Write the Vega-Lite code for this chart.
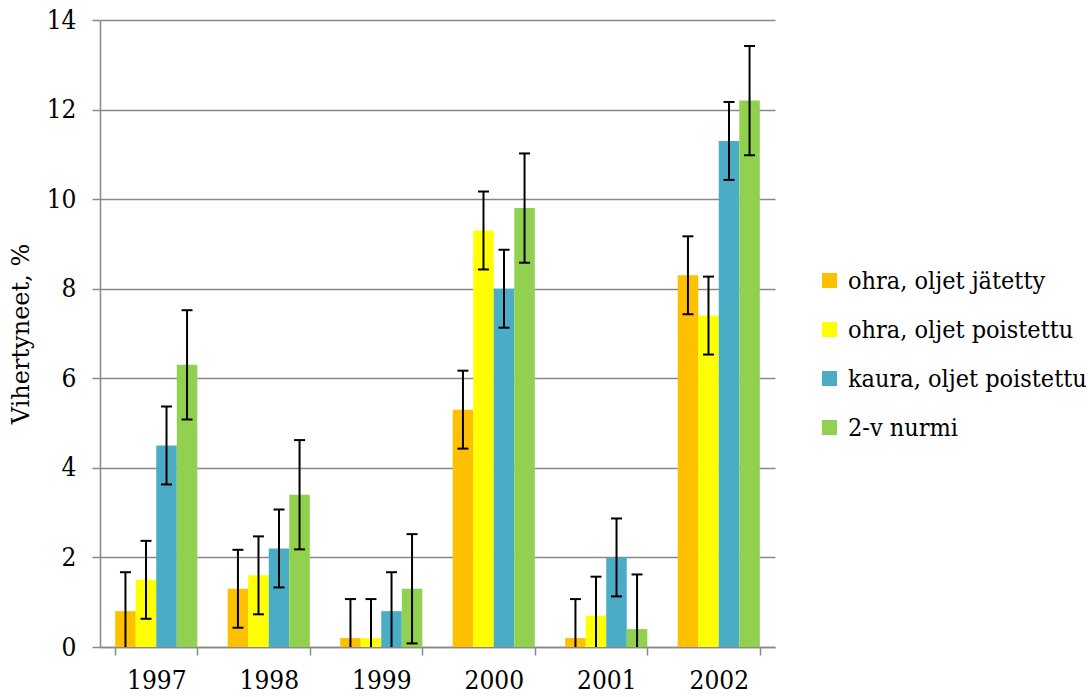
{
  "$schema": "https://vega.github.io/schema/vega-lite/v6.json",
  "autosize": {"type": "none"},
  "width": 675,
  "height": 627,
  "padding": {"left": 100, "top": 20, "right": 313, "bottom": 50},
  "background": "white",
  "config": {
    "view": {"stroke": null}
  },
  "data": {
    "values": [
      {"year": "1997", "series": "ohra, oljet jätetty", "value": 0.8, "lo": 0, "hi": 1.67},
      {"year": "1997", "series": "ohra, oljet poistettu", "value": 1.5, "lo": 0.63, "hi": 2.37},
      {"year": "1997", "series": "kaura, oljet poistettu", "value": 4.5, "lo": 3.63, "hi": 5.37},
      {"year": "1997", "series": "2-v nurmi", "value": 6.3, "lo": 5.08, "hi": 7.52},
      {"year": "1998", "series": "ohra, oljet jätetty", "value": 1.3, "lo": 0.43, "hi": 2.17},
      {"year": "1998", "series": "ohra, oljet poistettu", "value": 1.6, "lo": 0.73, "hi": 2.47},
      {"year": "1998", "series": "kaura, oljet poistettu", "value": 2.2, "lo": 1.33, "hi": 3.07},
      {"year": "1998", "series": "2-v nurmi", "value": 3.4, "lo": 2.18, "hi": 4.62},
      {"year": "1999", "series": "ohra, oljet jätetty", "value": 0.2, "lo": 0, "hi": 1.07},
      {"year": "1999", "series": "ohra, oljet poistettu", "value": 0.2, "lo": 0, "hi": 1.07},
      {"year": "1999", "series": "kaura, oljet poistettu", "value": 0.8, "lo": 0, "hi": 1.67},
      {"year": "1999", "series": "2-v nurmi", "value": 1.3, "lo": 0.08, "hi": 2.52},
      {"year": "2000", "series": "ohra, oljet jätetty", "value": 5.3, "lo": 4.43, "hi": 6.17},
      {"year": "2000", "series": "ohra, oljet poistettu", "value": 9.3, "lo": 8.43, "hi": 10.17},
      {"year": "2000", "series": "kaura, oljet poistettu", "value": 8.0, "lo": 7.13, "hi": 8.87},
      {"year": "2000", "series": "2-v nurmi", "value": 9.8, "lo": 8.58, "hi": 11.02},
      {"year": "2001", "series": "ohra, oljet jätetty", "value": 0.2, "lo": 0, "hi": 1.07},
      {"year": "2001", "series": "ohra, oljet poistettu", "value": 0.7, "lo": 0, "hi": 1.57},
      {"year": "2001", "series": "kaura, oljet poistettu", "value": 2.0, "lo": 1.13, "hi": 2.87},
      {"year": "2001", "series": "2-v nurmi", "value": 0.4, "lo": 0, "hi": 1.62},
      {"year": "2002", "series": "ohra, oljet jätetty", "value": 8.3, "lo": 7.43, "hi": 9.17},
      {"year": "2002", "series": "ohra, oljet poistettu", "value": 7.4, "lo": 6.53, "hi": 8.27},
      {"year": "2002", "series": "kaura, oljet poistettu", "value": 11.3, "lo": 10.43, "hi": 12.17},
      {"year": "2002", "series": "2-v nurmi", "value": 12.2, "lo": 10.98, "hi": 13.42}
    ]
  },
  "encoding": {
    "x": {
      "field": "year", "type": "nominal",
      "scale": {"paddingInner": 0.27, "paddingOuter": 0.135},
      "axis": {
        "title": null, "labelAngle": 0, "labelFontSize": 26, "labelPadding": 12,
        "labelFont": "DejaVu Serif Condensed", "labelColor": "black",
        "tickBand": "extent", "tickSize": 8, "tickColor": "#898989", "tickWidth": 1.5,
        "domainColor": "#898989", "domainWidth": 1.5, "grid": false
      }
    },
    "xOffset": {
      "field": "series", "type": "nominal",
      "sort": ["ohra, oljet jätetty", "ohra, oljet poistettu", "kaura, oljet poistettu", "2-v nurmi"],
      "scale": {"paddingInner": 0, "paddingOuter": 0}
    }
  },
  "layer": [
    {
      "mark": {"type": "bar"},
      "encoding": {
        "y": {
          "field": "value", "type": "quantitative",
          "scale": {"domain": [0, 14]},
          "axis": {
            "title": "Vihertyneet, %", "titleFontSize": 24, "titleFontWeight": "normal", "titlePadding": 13,
            "titleFont": "DejaVu Serif", "titleColor": "black",
            "labelFont": "DejaVu Serif Condensed", "labelColor": "black",
            "values": [0, 2, 4, 6, 8, 10, 12, 14], "labelFontSize": 26, "labelPadding": 16,
            "tickSize": 8, "tickColor": "#898989", "tickWidth": 1.5,
            "domainColor": "#898989", "domainWidth": 1.5,
            "grid": true, "gridColor": "#898989", "gridWidth": 1.5
          }
        },
        "color": {
          "field": "series", "type": "nominal",
          "scale": {
            "domain": ["ohra, oljet jätetty", "ohra, oljet poistettu", "kaura, oljet poistettu", "2-v nurmi"],
            "range": ["#FFC000", "#FFFF00", "#4BACC6", "#92D050"]
          },
          "legend": {
            "title": null, "orient": "none", "legendX": 717, "legendY": 248,
            "labelFont": "DejaVu Serif Condensed", "labelColor": "black",
            "symbolType": "square", "symbolSize": 225, "symbolStrokeWidth": 0, "symbolOpacity": 1,
            "labelFontSize": 25, "labelOffset": 6, "rowPadding": 23, "padding": 0, "labelLimit": 400
          }
        }
      }
    },
    {
      "mark": {"type": "rule", "color": "black", "strokeWidth": 2},
      "encoding": {
        "y": {"field": "lo", "type": "quantitative"},
        "y2": {"field": "hi"}
      }
    },
    {
      "mark": {"type": "tick", "color": "black", "thickness": 2, "size": 11, "opacity": 1},
      "encoding": {
        "y": {"field": "hi", "type": "quantitative"}
      }
    },
    {
      "transform": [{"filter": "datum.lo > 0"}],
      "mark": {"type": "tick", "color": "black", "thickness": 2, "size": 11, "opacity": 1},
      "encoding": {
        "y": {"field": "lo", "type": "quantitative"}
      }
    }
  ]
}
